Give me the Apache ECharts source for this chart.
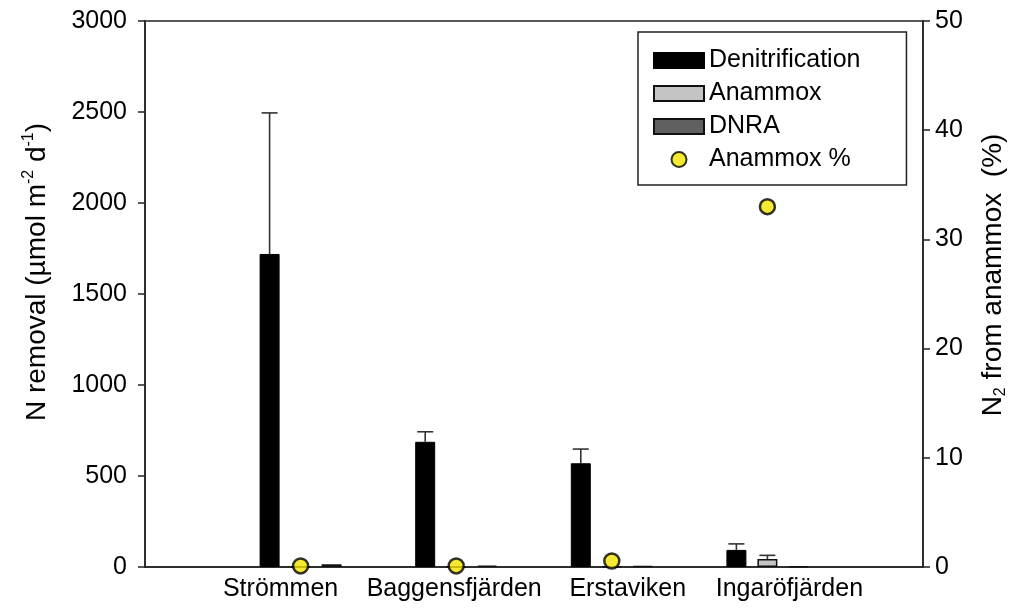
<!DOCTYPE html>
<html>
<head>
<meta charset="utf-8">
<script src="https://cdn.jsdelivr.net/npm/echarts@6/dist/echarts.min.js"></script>
<style>
html,body{margin:0;padding:0;background:#fff;}
#chart{width:1017px;height:608px;}
</style>
</head>
<body>
<div id="chart"></div>
<script>
// ---- data ----
var categories = ['', 'Strömmen', 'Baggensfjärden', 'Erstaviken', 'Ingaröfjärden', ''];
var labelShift = [0, -20, -2, 16, 22, 0];
var denitrification = ['-', 1720, 688, 570, 94, '-'];
var denitrificationErr = ['-', 775, 55, 78, 33, '-'];
var anammox = ['-', 2, 1, 3.5, 44, '-'];
var anammoxErr = ['-', 0, 0, 0, 20, '-'];
var dnra = ['-', 15, 8, 5, 4, '-'];
var anammoxPct = ['-', 0.1, 0.1, 0.55, 33, '-'];
var leftTicks = [0, 500, 1000, 1500, 2000, 2500, 3000];
var rightTicks = [0, 10, 20, 30, 40, 50];

var FONT = 'Liberation Sans, Arial, sans-serif';
var BAR_W = 20;
var GAP = 0.55;
var STEP = BAR_W * (1 + GAP);

function errSeries(vals, errs, shift) {
  var data = [];
  for (var i = 0; i < vals.length; i++) {
    if (vals[i] !== '-' && errs[i] > 0) data.push([i, vals[i], vals[i] + errs[i]]);
  }
  return {
    type: 'custom',
    z: 5,
    silent: true,
    renderItem: function (params, api) {
      var p0 = api.coord([api.value(0), api.value(1)]);
      var p1 = api.coord([api.value(0), api.value(2)]);
      var x = p0[0] + shift;
      var cw = 8;
      return {
        type: 'group',
        children: [
          { type: 'line', shape: { x1: x, y1: p0[1], x2: x, y2: p1[1] }, style: { stroke: '#333', lineWidth: 1.6 } },
          { type: 'line', shape: { x1: x - cw, y1: p1[1], x2: x + cw, y2: p1[1] }, style: { stroke: '#333', lineWidth: 1.6 } }
        ]
      };
    },
    data: data
  };
}

var catData = categories.map(function (c, i) {
  var s = labelShift[i];
  return { value: c, textStyle: { padding: [0, s < 0 ? -2 * s : 0, 0, s > 0 ? 2 * s : 0] } };
});

var chart = echarts.init(document.getElementById('chart'), null, { renderer: 'canvas' });
chart.setOption({
  animation: false,
  backgroundColor: '#fff',
  textStyle: { fontFamily: FONT },
  grid: { left: 145, right: 92, top: 21, bottom: 41, show: true, borderColor: '#222', borderWidth: 1.5, backgroundColor: 'transparent' },
  legend: {
    left: 638, top: 32,
    orient: 'vertical',
    backgroundColor: '#fff',
    borderColor: '#222', borderWidth: 1.5, borderRadius: 0,
    padding: [16, 46, 13, 15],
    itemGap: 8,
    itemWidth: 50, itemHeight: 15,
    textStyle: { fontSize: 25, color: '#000', fontFamily: FONT },
    data: [
      { name: 'Denitrification', icon: 'rect' },
      { name: 'Anammox', icon: 'rect' },
      { name: 'DNRA', icon: 'rect' },
      { name: 'Anammox %', icon: 'circle' }
    ]
  },
  xAxis: {
    type: 'category',
    data: catData,
    boundaryGap: false,
    axisLine: { lineStyle: { color: '#222', width: 1.5 } },
    axisTick: { show: false },
    axisLabel: { interval: 0, fontSize: 25, color: '#000', margin: 10, fontFamily: FONT },
    splitLine: { show: false }
  },
  yAxis: [
    {
      type: 'value', min: 0, max: 3000, interval: 500,
      position: 'left',
      axisLine: { show: true, lineStyle: { color: '#222', width: 1.5 } },
      axisTick: { show: true, inside: false, length: 7, lineStyle: { color: '#222', width: 1.5 } },
      axisLabel: { fontSize: 25, color: '#000', margin: 18, fontFamily: FONT,
        formatter: function (v) { return leftTicks.indexOf(v) >= 0 ? String(v) : ''; } },
      splitLine: { show: false },
      name: '{a|N removal (µmol m}{sup|-2}{a| d}{sup|-1}{a|)}',
      nameLocation: 'middle', nameGap: 92, nameRotate: 90,
      nameTextStyle: { fontSize: 28, color: '#000', fontFamily: FONT, padding: [0, 0, 0, 44],
        rich: { a: { fontSize: 28, fontFamily: FONT, color: '#000', lineHeight: 32 },
                sup: { fontSize: 16, fontFamily: FONT, color: '#000', verticalAlign: 'top', lineHeight: 17 } } }
    },
    {
      type: 'value', min: 0, max: 50, interval: 10,
      position: 'right',
      axisLine: { show: true, lineStyle: { color: '#222', width: 1.5 } },
      axisTick: { show: true, inside: false, length: 7, lineStyle: { color: '#222', width: 1.5 } },
      axisLabel: { fontSize: 25, color: '#000', margin: 12, fontFamily: FONT,
        formatter: function (v) { return rightTicks.indexOf(v) >= 0 ? String(v) : ''; } },
      splitLine: { show: false },
      name: '{a|N}{sub|2}{a| from anammox  (%)}',
      nameLocation: 'middle', nameGap: 54, nameRotate: 90,
      nameTextStyle: { fontSize: 28, color: '#000', fontFamily: FONT, padding: [0, 0, 0, 38],
        rich: { a: { fontSize: 28, fontFamily: FONT, color: '#000', lineHeight: 32 },
                sub: { fontSize: 16, fontFamily: FONT, color: '#000', verticalAlign: 'bottom', lineHeight: 17 } } }
    }
  ],
  series: [
    { name: 'Denitrification', type: 'bar', data: denitrification, barWidth: BAR_W, barGap: (GAP * 100) + '%',
      itemStyle: { color: '#000', borderColor: '#000', borderWidth: 1 }, z: 2 },
    { name: 'Anammox', type: 'bar', data: anammox, barWidth: BAR_W, barGap: (GAP * 100) + '%',
      itemStyle: { color: '#c4c4c4', borderColor: '#111', borderWidth: 1.5 }, z: 2 },
    { name: 'DNRA', type: 'bar', data: dnra, barWidth: BAR_W, barGap: (GAP * 100) + '%',
      itemStyle: { color: '#606060', borderColor: '#111', borderWidth: 1.5 }, z: 2 },
    errSeries(denitrification, denitrificationErr, -STEP),
    errSeries(anammox, anammoxErr, 0),
    { name: 'Anammox %', type: 'scatter', yAxisIndex: 1, data: anammoxPct, symbol: 'circle', symbolSize: 15,
      itemStyle: { color: '#f2e400', borderColor: '#000', borderWidth: 2.5 }, z: 10, clip: false }
  ]
});
</script>
</body>
</html>
